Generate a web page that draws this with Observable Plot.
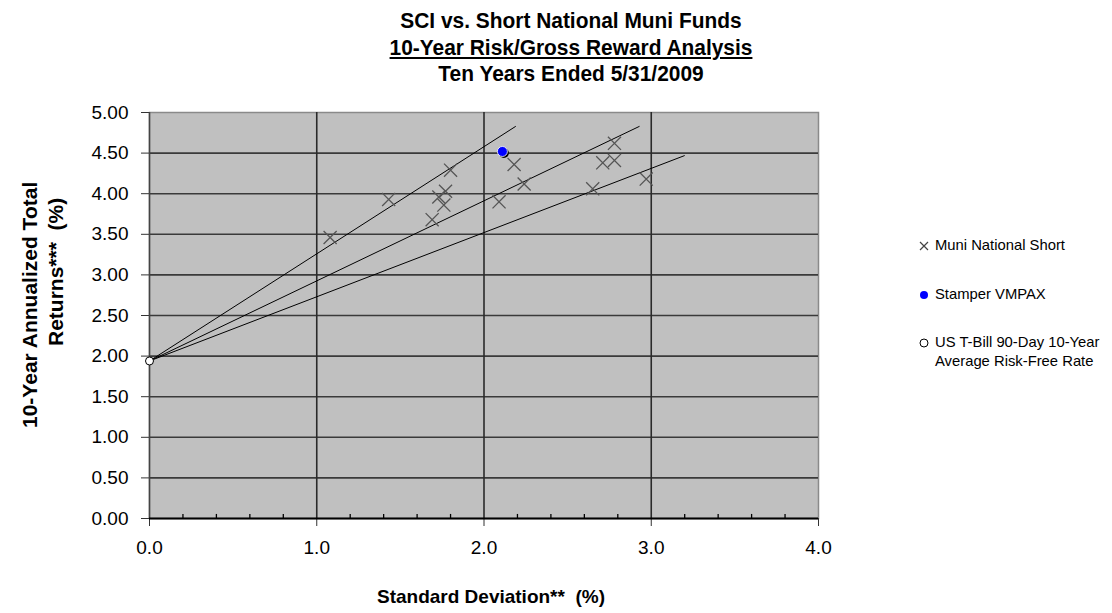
<!DOCTYPE html>
<html>
<head>
<meta charset="utf-8">
<script src="https://cdn.jsdelivr.net/npm/d3@7"></script>
<script src="https://cdn.jsdelivr.net/npm/@observablehq/plot@0.6"></script>
<style>
  html, body { margin: 0; padding: 0; background: #fff; }
  #wrap { position: relative; width: 1112px; height: 613px; overflow: hidden; font-family: "Liberation Sans", Arial, sans-serif; }
  #title { position: absolute; left: 0; top: 8px; width: 1142px; text-align: center; transform: scaleX(0.95); transform-origin: 571px 0;
    font-family: "Liberation Sans", Arial, sans-serif; font-weight: bold; font-size: 22px; line-height: 26.5px; color: #000; }
  #title .u { text-decoration: underline; }
  .ylab { position: absolute; font-weight: bold; font-size: 21px; white-space: nowrap; transform-origin: 0 0; transform: rotate(-90deg); color:#000; }
  #xlab { position: absolute; left: 0; width: 982px; text-align: center; top: 586px; font-weight: bold; font-size: 19px; color:#000; }
  #legend { position: absolute; left: 918px; top: 236px; font-size: 14.8px; color: #000; }
  .li { position: absolute; white-space: nowrap; }
  .li svg { position: absolute; left: 0; top: 4px; }
  .li span { position: absolute; left: 17px; top: 0; line-height: 19px; }
</style>
</head>
<body>
<div id="wrap">
  <div id="title">
    <div>SCI vs. Short National Muni Funds</div>
    <div class="u">10-Year Risk/Gross Reward Analysis</div>
    <div>Ten Years Ended 5/31/2009</div>
  </div>
  <div id="chart"></div>
  <div class="ylab" id="yl1">10-Year Annualized Total</div>
  <div class="ylab" id="yl2">Returns***&nbsp;&nbsp;(%)</div>
  <div id="xlab">Standard Deviation**&nbsp;&nbsp;(%)</div>
  <div id="legend"></div>
</div>
<script>
// ---- data ----
const muniSD  = [1.08, 1.43, 1.80, 1.77, 1.73, 1.76, 1.69, 2.09, 2.18, 2.24, 2.78, 2.71, 2.78, 2.65, 2.97];
const muniRet = [3.46, 3.93, 4.29, 4.03, 3.96, 3.86, 3.68, 3.90, 4.36, 4.12, 4.62, 4.38, 4.41, 4.06, 4.18];
const stamperSD = [2.11];
const stamperRet = [4.52];
const riskFreeSD = [0.0];
const riskFreeRet = [1.94];
// capital market lines: end points (start at risk-free point)
const lineEndSD  = [2.19, 2.93, 3.20];
const lineEndRet = [4.83, 4.83, 4.47];
const yTicks = [0, 0.5, 1, 1.5, 2, 2.5, 3, 3.5, 4, 4.5, 5];
const xTicks = [0, 1, 2, 3, 4];
const xMinor = [0.2,0.4,0.6,0.8,1.2,1.4,1.6,1.8,2.2,2.4,2.6,2.8,3.2,3.4,3.6,3.8];
const legendLabels = ["Muni National Short", "Stamper VMPAX", "US T-Bill 90-Day 10-Year", "Average Risk-Free Rate"];

const muni = muniSD.map((x, i) => ({x, y: muniRet[i]}));
const stamper = stamperSD.map((x, i) => ({x, y: stamperRet[i]}));
const rf = riskFreeSD.map((x, i) => ({x, y: riskFreeRet[i]}));
const links = lineEndSD.map((x, i) => ({x1: rf[0].x, y1: rf[0].y, x2: x, y2: lineEndRet[i]}));

const chart = Plot.plot({
  width: 1112,
  height: 613,
  marginTop: 112,
  marginBottom: 95,
  marginLeft: 149,
  marginRight: 294,
  style: {fontFamily: "Liberation Sans, Arial, sans-serif", background: "transparent", color: "#000"},
  x: {domain: [0, 4]},
  y: {domain: [0, 5]},
  marks: [
    Plot.frame({fill: "#c0c0c0", stroke: "#8a8a8a", strokeWidth: 1.5}),
    Plot.ruleY(yTicks.filter(d => d > 0 && d < 5), {stroke: "#3a3a3a", strokeWidth: 1.6}),
    Plot.ruleX(xTicks.filter(d => d > 0 && d < 4), {stroke: "#2a2a2a", strokeWidth: 1.6}),
    Plot.ruleX(xMinor, {y1: 0, y2: 0.05, stroke: "#000", strokeWidth: 1.3}),
    Plot.axisY({ticks: yTicks, tickFormat: d3.format(".2f"), tickSize: 8, tickPadding: 13, fontSize: 19, label: null, stroke: "#333"}),
    Plot.axisX({ticks: xTicks, tickFormat: d3.format(".1f"), tickSize: 8, tickPadding: 14, fontSize: 19, label: null, stroke: "#333"}),
    Plot.ruleX([0], {stroke: "#444", strokeWidth: 1.5}),
    Plot.ruleY([0], {stroke: "#000", strokeWidth: 2}),
    Plot.link(links, {x1: "x1", y1: "y1", x2: "x2", y2: "y2", stroke: "#000", strokeWidth: 1}),
    Plot.dot(muni, {x: "x", y: "y", symbol: "times", r: 6, stroke: "#555", strokeWidth: 1.3}),
    Plot.dot(stamper, {x: "x", y: "y", r: 5, fill: "#000", stroke: "none", dx: 1.5, dy: 1.5}),
    Plot.dot(stamper, {x: "x", y: "y", r: 5, fill: "#0000ff", stroke: "#fff", strokeWidth: 0.8}),
    Plot.dot(rf, {x: "x", y: "y", r: 4, fill: "#fff", stroke: "#000", strokeWidth: 1})
  ]
});
document.getElementById("chart").appendChild(chart);

// axis title positions
const yl1 = document.getElementById("yl1");
const yl2 = document.getElementById("yl2");
function placeRot(el, cx, cy) {
  const w = el.offsetWidth, h = el.offsetHeight;
  el.style.left = (cx - h / 2) + "px";
  el.style.top = (cy + w / 2) + "px";
}
placeRot(yl1, 30, 305);
placeRot(yl2, 56, 272);

// legend
const lg = document.getElementById("legend");
const items = [
  {top: 0, sym: '<svg width="12" height="12"><path d="M2,2L10,10M10,2L2,10" stroke="#444" stroke-width="1.2"/></svg>', text: legendLabels[0]},
  {top: 49, sym: '<svg width="12" height="12"><circle cx="6" cy="6" r="4" fill="#0000ff"/></svg>', text: legendLabels[1]},
  {top: 97, sym: '<svg width="12" height="12"><circle cx="6" cy="6" r="4" fill="#fff" stroke="#000" stroke-width="1"/></svg>', text: legendLabels[2]},
  {top: 116, sym: '', text: legendLabels[3]}
];
for (const it of items) {
  const d = document.createElement("div");
  d.className = "li";
  d.style.top = it.top + "px";
  d.innerHTML = it.sym + "<span>" + it.text + "</span>";
  lg.appendChild(d);
}
</script>
</body>
</html>
